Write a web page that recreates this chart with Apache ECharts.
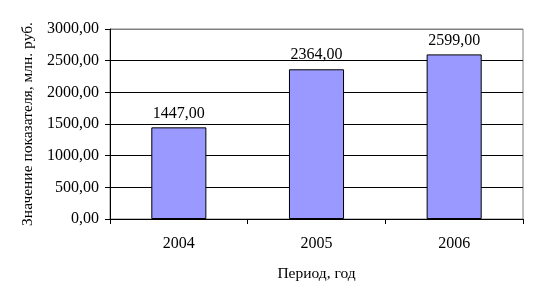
<!DOCTYPE html>
<html><head><meta charset="utf-8">
<script src="https://cdn.jsdelivr.net/npm/echarts@6/dist/echarts.min.js"></script>
<style>html,body{margin:0;padding:0;background:#fff}#c{width:538px;height:302px}</style>
</head><body><div id="c"></div>
<script>
const categories = ['2004', '2005', '2006'];
const values = [1447, 2364, 2599];
const yTicks = [0, 500, 1000, 1500, 2000, 2500, 3000];
const yTitle = 'Значение показателя, млн. руб.';
const xTitle = 'Период, год';

const fmt = v => v.toFixed(2).replace('.', ',');
const font = 'Liberation Serif, Times New Roman, serif';
const chart = echarts.init(document.getElementById('c'), null, {renderer: 'canvas'});
chart.setOption({
  animation: false,
  grid: {left: 110, top: 29, right: 15, bottom: 83, show: true, borderColor: '#808080', borderWidth: 1, backgroundColor: 'transparent'},
  xAxis: {
    type: 'category', data: categories,
    name: xTitle, nameLocation: 'middle', nameGap: 47,
    nameTextStyle: {fontFamily: font, fontSize: 15.5, color: '#000'},
    axisLine: {lineStyle: {color: '#000', width: 1}},
    axisTick: {show: true, length: 5, lineStyle: {color: '#000'}},
    axisLabel: {fontFamily: font, fontSize: 16, color: '#000', margin: 17}
  },
  yAxis: {
    type: 'value', min: yTicks[0], max: yTicks[yTicks.length - 1], interval: 500,
    name: yTitle, nameLocation: 'middle', nameGap: 74, nameRotate: 90,
    nameTextStyle: {fontFamily: font, fontSize: 15.5, color: '#000'},
    axisLine: {show: true, lineStyle: {color: '#000', width: 1}},
    axisTick: {show: true, length: 5, lineStyle: {color: '#000'}},
    axisLabel: {fontFamily: font, fontSize: 16, color: '#000', margin: 11, formatter: v => fmt(v)},
    splitLine: {show: true, lineStyle: {color: ['#000','#000','#000','#000','#000','#000','#808080'], width: 1}}
  },
  series: [{
    type: 'bar', data: values, barWidth: '40%',
    itemStyle: {color: '#9999FF', borderColor: '#000', borderWidth: 1},
    label: {show: true, position: 'top', distance: 6, fontFamily: font, fontSize: 16, color: '#000', formatter: p => fmt(p.value)}
  }]
});
</script></body></html>
